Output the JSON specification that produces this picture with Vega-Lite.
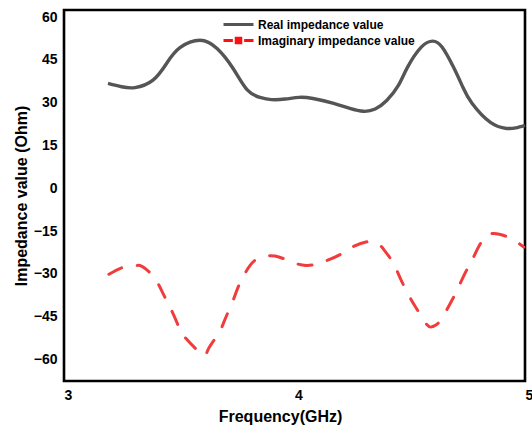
{
  "$schema": "https://vega.github.io/schema/vega-lite/v6.json",
  "width": 461,
  "height": 371,
  "autosize": {"type": "none"},
  "padding": {"left": 64, "top": 10, "right": 7, "bottom": 52},
  "background": "white",
  "config": {
    "font": "Liberation Sans",
    "view": {"stroke": "#000000", "strokeWidth": 2.6},
    "axis": {"grid": false, "ticks": false, "domain": false, "labelFont": "Liberation Sans", "labelFontWeight": "bold", "labelColor": "#000", "titleFont": "Liberation Sans", "titleFontWeight": "bold", "titleColor": "#000"}
  },
  "data": {
    "values": [
      {"f": 3.191, "v": 36.8, "s": "Real impedance value"},
      {"f": 3.25, "v": 35.6, "s": "Real impedance value"},
      {"f": 3.308, "v": 35.3, "s": "Real impedance value"},
      {"f": 3.386, "v": 37.9, "s": "Real impedance value"},
      {"f": 3.447, "v": 44.0, "s": "Real impedance value"},
      {"f": 3.503, "v": 49.3, "s": "Real impedance value"},
      {"f": 3.59, "v": 51.9, "s": "Real impedance value"},
      {"f": 3.664, "v": 49.0, "s": "Real impedance value"},
      {"f": 3.733, "v": 42.1, "s": "Real impedance value"},
      {"f": 3.794, "v": 34.6, "s": "Real impedance value"},
      {"f": 3.85, "v": 31.9, "s": "Real impedance value"},
      {"f": 3.9, "v": 31.1, "s": "Real impedance value"},
      {"f": 3.96, "v": 31.3, "s": "Real impedance value"},
      {"f": 4.02, "v": 31.9, "s": "Real impedance value"},
      {"f": 4.08, "v": 31.5, "s": "Real impedance value"},
      {"f": 4.17, "v": 29.8, "s": "Real impedance value"},
      {"f": 4.24, "v": 28.0, "s": "Real impedance value"},
      {"f": 4.3, "v": 27.0, "s": "Real impedance value"},
      {"f": 4.35, "v": 27.8, "s": "Real impedance value"},
      {"f": 4.4, "v": 30.8, "s": "Real impedance value"},
      {"f": 4.45, "v": 36.0, "s": "Real impedance value"},
      {"f": 4.49, "v": 42.4, "s": "Real impedance value"},
      {"f": 4.55, "v": 49.5, "s": "Real impedance value"},
      {"f": 4.6, "v": 51.6, "s": "Real impedance value"},
      {"f": 4.64, "v": 49.5, "s": "Real impedance value"},
      {"f": 4.69, "v": 42.4, "s": "Real impedance value"},
      {"f": 4.73, "v": 35.5, "s": "Real impedance value"},
      {"f": 4.77, "v": 29.8, "s": "Real impedance value"},
      {"f": 4.85, "v": 23.1, "s": "Real impedance value"},
      {"f": 4.92, "v": 21.0, "s": "Real impedance value"},
      {"f": 4.96, "v": 21.2, "s": "Real impedance value"},
      {"f": 5.0, "v": 22.1, "s": "Real impedance value"},
      {"f": 3.195, "v": -30.1, "s": "Imaginary impedance value"},
      {"f": 3.256, "v": -27.7, "s": "Imaginary impedance value"},
      {"f": 3.3, "v": -27.2, "s": "Imaginary impedance value"},
      {"f": 3.34, "v": -27.4, "s": "Imaginary impedance value"},
      {"f": 3.395, "v": -31.7, "s": "Imaginary impedance value"},
      {"f": 3.43, "v": -36.9, "s": "Imaginary impedance value"},
      {"f": 3.46, "v": -41.6, "s": "Imaginary impedance value"},
      {"f": 3.495, "v": -48.0, "s": "Imaginary impedance value"},
      {"f": 3.525, "v": -52.2, "s": "Imaginary impedance value"},
      {"f": 3.6, "v": -58.2, "s": "Imaginary impedance value"},
      {"f": 3.625, "v": -56.5, "s": "Imaginary impedance value"},
      {"f": 3.67, "v": -50.9, "s": "Imaginary impedance value"},
      {"f": 3.7, "v": -45.6, "s": "Imaginary impedance value"},
      {"f": 3.73, "v": -40.0, "s": "Imaginary impedance value"},
      {"f": 3.755, "v": -34.7, "s": "Imaginary impedance value"},
      {"f": 3.79, "v": -29.1, "s": "Imaginary impedance value"},
      {"f": 3.84, "v": -24.6, "s": "Imaginary impedance value"},
      {"f": 3.915, "v": -23.7, "s": "Imaginary impedance value"},
      {"f": 3.98, "v": -25.6, "s": "Imaginary impedance value"},
      {"f": 4.05, "v": -27.0, "s": "Imaginary impedance value"},
      {"f": 4.12, "v": -25.9, "s": "Imaginary impedance value"},
      {"f": 4.2, "v": -23.1, "s": "Imaginary impedance value"},
      {"f": 4.25, "v": -20.6, "s": "Imaginary impedance value"},
      {"f": 4.335, "v": -18.6, "s": "Imaginary impedance value"},
      {"f": 4.39, "v": -21.7, "s": "Imaginary impedance value"},
      {"f": 4.43, "v": -26.4, "s": "Imaginary impedance value"},
      {"f": 4.46, "v": -31.7, "s": "Imaginary impedance value"},
      {"f": 4.5, "v": -38.1, "s": "Imaginary impedance value"},
      {"f": 4.53, "v": -42.2, "s": "Imaginary impedance value"},
      {"f": 4.575, "v": -47.8, "s": "Imaginary impedance value"},
      {"f": 4.6, "v": -48.4, "s": "Imaginary impedance value"},
      {"f": 4.63, "v": -46.6, "s": "Imaginary impedance value"},
      {"f": 4.675, "v": -40.4, "s": "Imaginary impedance value"},
      {"f": 4.705, "v": -35.8, "s": "Imaginary impedance value"},
      {"f": 4.74, "v": -29.7, "s": "Imaginary impedance value"},
      {"f": 4.77, "v": -25.2, "s": "Imaginary impedance value"},
      {"f": 4.81, "v": -18.9, "s": "Imaginary impedance value"},
      {"f": 4.86, "v": -15.8, "s": "Imaginary impedance value"},
      {"f": 4.935, "v": -17.4, "s": "Imaginary impedance value"},
      {"f": 4.995, "v": -20.6, "s": "Imaginary impedance value"}
    ]
  },
  "encoding": {
    "x": {
      "field": "f", "type": "quantitative",
      "scale": {"domain": [3, 5], "nice": false, "zero": false},
      "axis": {"values": [3, 4, 5], "labelExpr": "format(datum.value, '.0f')", "title": "Frequency(GHz)", "labelFontSize": 14, "labelPadding": 7, "labelOffset": 4, "labelOverlap": false, "labelBound": false, "titleFontSize": 16, "titleX": 216, "titlePadding": 6, "labelFlush": false}
    },
    "y": {
      "field": "v", "type": "quantitative",
      "scale": {"domain": [-67.5, 62.5], "nice": false, "zero": false},
      "axis": {"values": [-60, -45, -30, -15, 0, 15, 30, 45, 60], "title": "Impedance value (Ohm)", "labelFontSize": 14, "labelPadding": 7, "labelOverlap": false, "titleFontSize": 16, "titlePadding": 4}
    }
  },
  "layer": [
    {
      "transform": [{"filter": "datum.s === 'Real impedance value'"}],
      "mark": {"type": "line", "interpolate": "natural", "color": "#555555", "strokeWidth": 3.4}
    },
    {
      "transform": [{"filter": "datum.s === 'Imaginary impedance value'"}],
      "mark": {"type": "line", "interpolate": "natural", "color": "#f03c3c", "strokeWidth": 3, "strokeDash": [14, 16], "strokeCap": "round"}
    },
    {
      "mark": {"type": "point", "filled": false, "opacity": 0, "strokeWidth": 3, "size": 225},
      "encoding": {
        "color": {
          "field": "s", "type": "nominal",
          "scale": {"domain": ["Real impedance value", "Imaginary impedance value"], "range": ["#555555", "#ff1010"]},
          "legend": {"title": null, "orient": "none", "legendX": 165.5, "legendY": 5.5, "padding": 0, "rowPadding": 1, "labelOffset": 10.5, "labelFontSize": 12, "labelFontWeight": "bold", "labelColor": "#000", "labelFont": "Liberation Sans", "symbolOpacity": 1, "symbolStrokeWidth": 3, "symbolSize": 225}
        },
        "shape": {
          "field": "s", "type": "nominal",
          "scale": {"domain": ["Real impedance value", "Imaginary impedance value"], "range": ["M-2,0H2", "M-2,0H-0.75M-0.5,-0.3H0.5M-0.5,-0.1H0.5M-0.5,0.1H0.5M-0.5,0.3H0.5M0.75,0H2"]},
          "legend": {"title": null, "orient": "none", "legendX": 165.5, "legendY": 5.5, "padding": 0, "rowPadding": 1, "labelOffset": 10.5, "labelFontSize": 12, "labelFontWeight": "bold", "labelColor": "#000", "labelFont": "Liberation Sans", "symbolOpacity": 1, "symbolStrokeWidth": 3, "symbolSize": 225}
        }
      }
    }
  ]
}
